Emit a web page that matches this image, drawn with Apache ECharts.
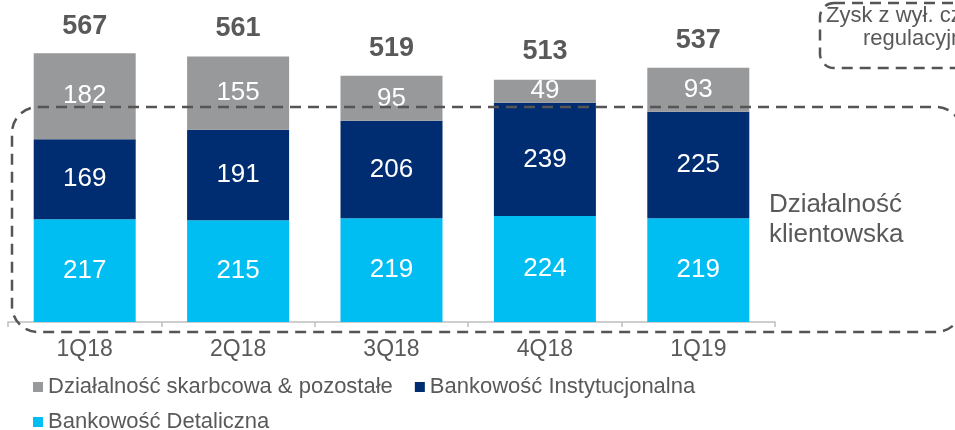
<!DOCTYPE html>
<html>
<head>
<meta charset="utf-8">
<script src="https://cdn.jsdelivr.net/npm/echarts@6/dist/echarts.min.js"></script>
<style>
  html, body { margin: 0; padding: 0; background: #fff; }
  #chart { width: 955px; height: 430px; }
</style>
</head>
<body>
<div id="chart"></div>
<script>
// dane z wykresu
const kwartaly = ['1Q18', '2Q18', '3Q18', '4Q18', '1Q19']
const detaliczna = [217, 215, 219, 224, 219]
const instytucjonalna = [169, 191, 206, 239, 225]
const skarbcowa = [182, 155, 95, 49, 93]
const suma = [567, 561, 519, 513, 537]

const FONT = '"Liberation Sans", Arial, sans-serif'
const TXT = '#595959'

const segLabel = {
  show: true,
  position: 'inside',
  color: '#fff',
  fontSize: 26,
  fontFamily: FONT
}

const myChart = echarts.init(document.getElementById('chart'))

const option = {
  animation: false,
  grid: { left: 8, right: 180, top: 38, bottom: 108 },
  legend: [
    {
      data: ['Działalność skarbcowa & pozostałe', 'Bankowość Instytucjonalna'],
      left: 28, top: 371,
      itemWidth: 10, itemHeight: 10, itemGap: 22,
      icon: 'rect',
      textStyle: { fontSize: 22, color: TXT, fontFamily: FONT }
    },
    {
      data: ['Bankowość Detaliczna'],
      left: 28, top: 406,
      itemWidth: 10, itemHeight: 10,
      icon: 'rect',
      textStyle: { fontSize: 22, color: TXT, fontFamily: FONT }
    }
  ],
  xAxis: {
    type: 'category',
    data: kwartaly,
    axisLine: { lineStyle: { color: '#BFBFBF', width: 1.5 } },
    axisTick: { show: true, length: 5, lineStyle: { color: '#BFBFBF', width: 1.5 } },
    axisLabel: { fontSize: 23, color: TXT, fontFamily: FONT, margin: 16 }
  },
  yAxis: {
    type: 'value',
    min: 0, max: 600,
    show: false,
    splitLine: { show: false }
  },
  series: [
    {
      name: 'Bankowość Detaliczna',
      type: 'bar', stack: 'a', barWidth: 102,
      data: detaliczna,
      itemStyle: { color: '#00BEF2' },
      label: segLabel
    },
    {
      name: 'Bankowość Instytucjonalna',
      type: 'bar', stack: 'a', barWidth: 102,
      data: instytucjonalna,
      itemStyle: { color: '#002D72' },
      label: segLabel
    },
    {
      name: 'Działalność skarbcowa & pozostałe',
      type: 'bar', stack: 'a', barWidth: 102,
      data: skarbcowa,
      itemStyle: { color: '#98999B' },
      label: segLabel
    },
    {
      // suma nad słupkami
      name: 'Suma',
      type: 'bar', barWidth: 102, barGap: '-100%',
      data: suma,
      silent: true,
      z: 1,
      itemStyle: { color: 'rgba(0,0,0,0)' },
      label: {
        show: true, position: 'top', distance: 14,
        fontSize: 27, fontWeight: 'bold', color: TXT, fontFamily: FONT
      }
    }
  ],
  graphic: [
    {
      type: 'rect',
      shape: { x: 12, y: 107, width: 950, height: 225, r: 26 },
      style: { fill: 'none', stroke: '#555', lineWidth: 2.5, lineDash: [11, 7] },
      z: 10
    },
    {
      type: 'rect',
      shape: { x: 820, y: 3, width: 150, height: 65, r: 14 },
      style: { fill: 'none', stroke: '#555', lineWidth: 2.5, lineDash: [11, 7] },
      z: 10
    },
    {
      type: 'text',
      left: 769, top: 190,
      style: {
        text: 'Działalność\nklientowska',
        fontSize: 26, lineHeight: 30, fill: TXT, fontFamily: FONT
      }
    },
    {
      type: 'text',
      x: 826, y: 5,
      style: { text: 'Zysk z wył. czynników', fontSize: 22, fill: TXT, fontFamily: FONT }
    },
    {
      type: 'text',
      x: 863, y: 28,
      style: { text: 'regulacyjnych', fontSize: 22, fill: TXT, fontFamily: FONT }
    }
  ]
}

myChart.setOption(option)
</script>
</body>
</html>
